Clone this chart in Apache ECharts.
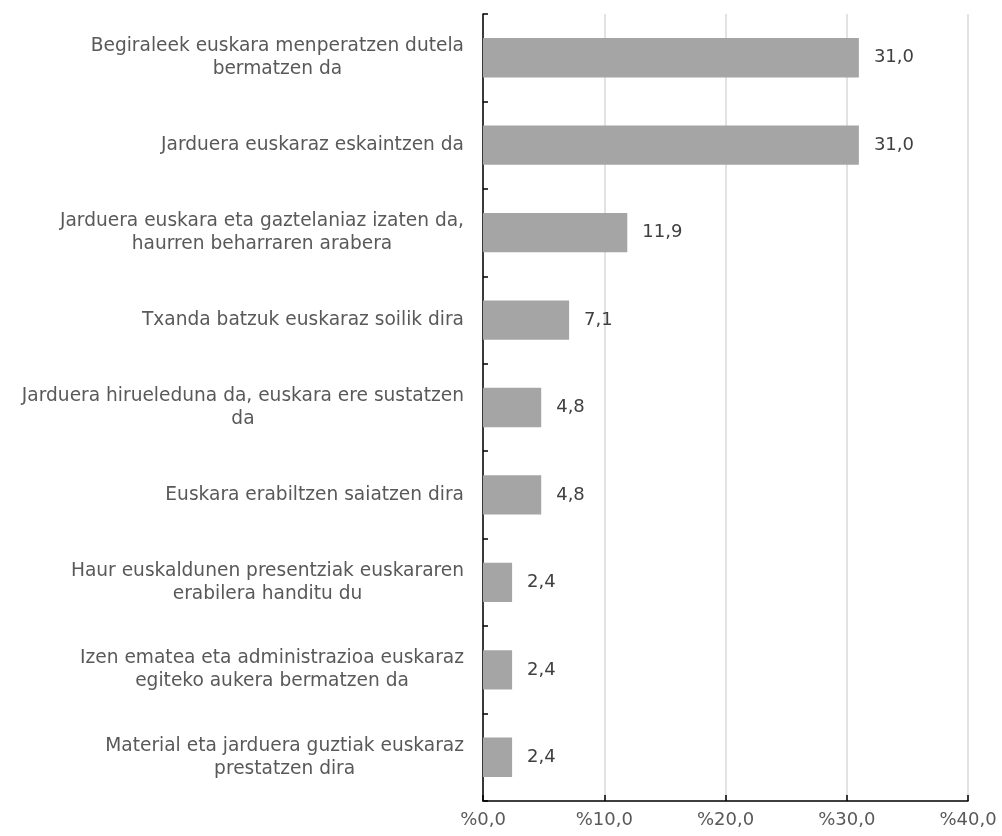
<!DOCTYPE html>
<html>
<head>
<meta charset="utf-8">
<script src="https://cdn.jsdelivr.net/npm/echarts@6/dist/echarts.min.js"></script>
<style>html,body{margin:0;padding:0;background:#fff}#c{width:1002px;height:836px}</style>
</head>
<body>
<div id="c"></div>
<script>
const categories = [
  "Begiraleek euskara menperatzen dutela\nbermatzen da",
  "Jarduera euskaraz eskaintzen da",
  "Jarduera euskara eta gaztelaniaz izaten da,\nhaurren beharraren arabera",
  "Txanda batzuk euskaraz soilik dira",
  "Jarduera hirueleduna da, euskara ere sustatzen\nda",
  "Euskara erabiltzen saiatzen dira",
  "Haur euskaldunen presentziak euskararen\nerabilera handitu du",
  "Izen ematea eta administrazioa euskaraz\negiteko aukera bermatzen da",
  "Material eta jarduera guztiak euskaraz\nprestatzen dira"
];
const values = [31.0, 31.0, 11.9, 7.1, 4.8, 4.8, 2.4, 2.4, 2.4];
const xTicks = { min: 0, max: 40, interval: 10 };

const FONT = 'DejaVu Sans';
const FS = 18;
const chart = echarts.init(document.getElementById('c'));
chart.setOption({
  animation: false,
  textStyle: { fontFamily: FONT },
  grid: { left: 483, right: 34, top: 14, bottom: 35, containLabel: false },
  xAxis: {
    type: 'value', min: xTicks.min, max: xTicks.max, interval: xTicks.interval,
    axisLine: { show: true, lineStyle: { color: '#000', width: 1.5 } },
    axisTick: { show: true, inside: true, length: 6, lineStyle: { color: '#000', width: 1.5 } },
    splitLine: { show: true, lineStyle: { color: '#d9d9d9', width: 1.5 } },
    axisLabel: {
      color: '#595959', fontFamily: FONT, fontSize: FS, margin: 10,
      formatter: v => '%' + v.toFixed(1).replace('.', ',')
    }
  },
  yAxis: {
    type: 'category', data: categories, inverse: true,
    axisLine: { show: true, lineStyle: { color: '#000', width: 1.5 } },
    axisTick: { show: true, inside: true, length: 5, lineStyle: { color: '#000', width: 1.5 } },
    splitLine: { show: false },
    axisLabel: {
      color: '#595959', fontFamily: FONT, fontSize: 18.6, margin: 19, align: 'right', lineHeight: 23,
      formatter: v => v.split('\n').map(s => '{c|' + s + '}').join('\n'),
      rich: { c: { align: 'center', color: '#595959', fontFamily: FONT, fontSize: 18.6, lineHeight: 23 } }
    }
  },
  series: [{
    type: 'bar', data: values, barWidth: '45%',
    itemStyle: { color: '#a5a5a5' },
    label: {
      show: true, position: 'right', distance: 15,
      color: '#404040', fontFamily: FONT, fontSize: FS,
      formatter: p => p.value.toFixed(1).replace('.', ',')
    }
  }]
});
</script>
</body>
</html>
